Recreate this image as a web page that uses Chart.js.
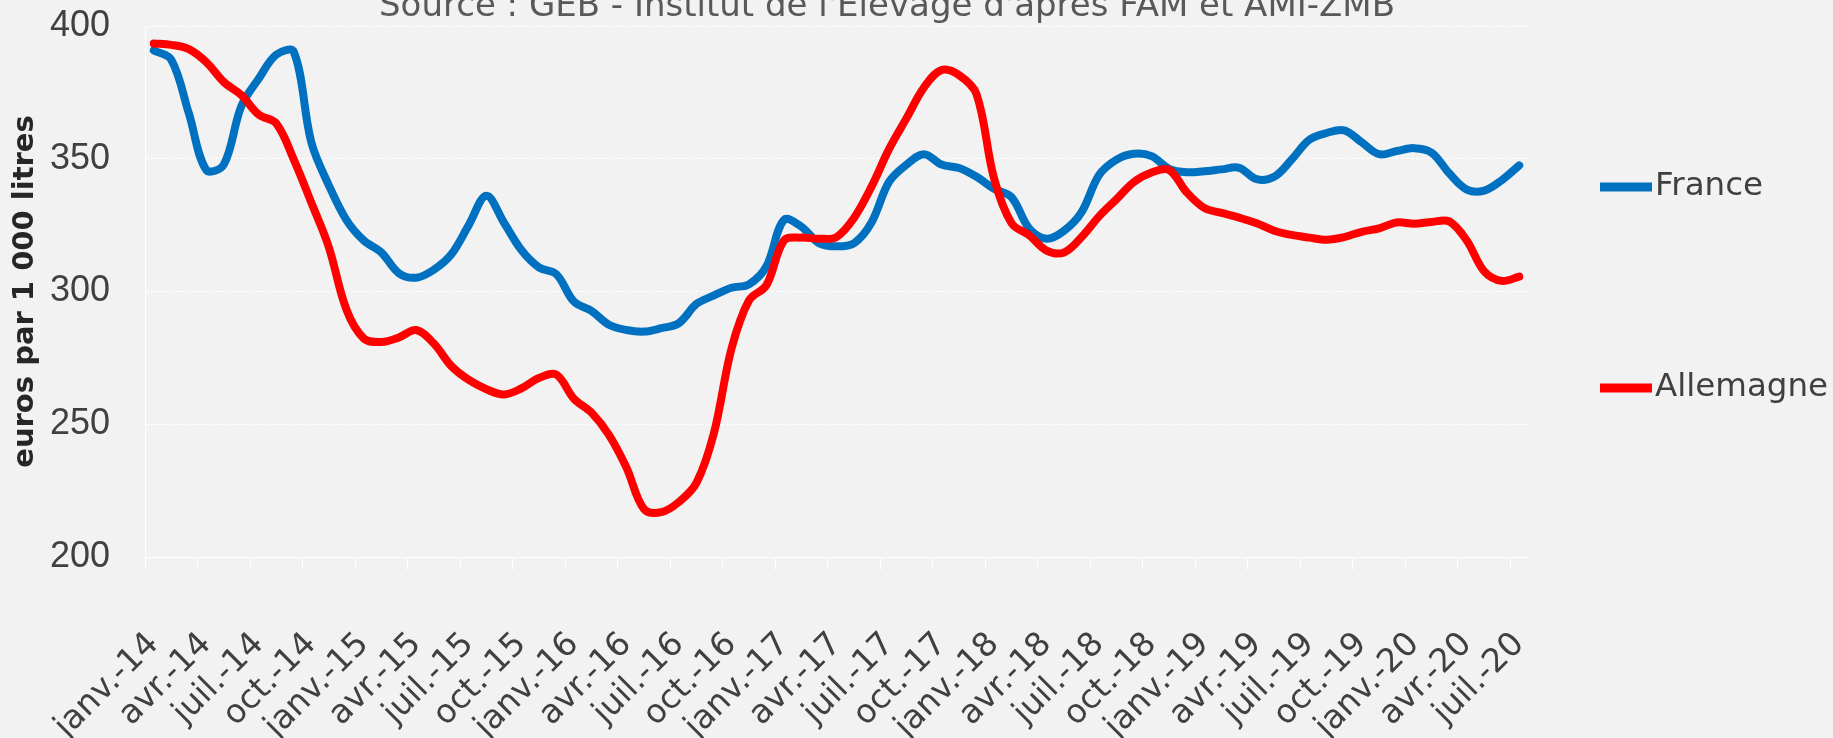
<!DOCTYPE html>
<html>
<head>
<meta charset="utf-8">
<script src="https://cdn.jsdelivr.net/npm/chart.js@4.4.1/dist/chart.umd.min.js"></script>
<style>
  html, body { margin: 0; padding: 0; background: #f2f2f2; overflow: hidden; }
  #wrap { position: relative; width: 1833px; height: 738px; }
</style>
</head>
<body>
<div id="wrap"><canvas id="c" width="1833" height="738"></canvas></div>
<script>
const categories = [
  'janv.-14','févr.-14','mars-14','avr.-14','mai-14','juin-14','juil.-14','août-14','sept.-14','oct.-14','nov.-14','déc.-14',
  'janv.-15','févr.-15','mars-15','avr.-15','mai-15','juin-15','juil.-15','août-15','sept.-15','oct.-15','nov.-15','déc.-15',
  'janv.-16','févr.-16','mars-16','avr.-16','mai-16','juin-16','juil.-16','août-16','sept.-16','oct.-16','nov.-16','déc.-16',
  'janv.-17','févr.-17','mars-17','avr.-17','mai-17','juin-17','juil.-17','août-17','sept.-17','oct.-17','nov.-17','déc.-17',
  'janv.-18','févr.-18','mars-18','avr.-18','mai-18','juin-18','juil.-18','août-18','sept.-18','oct.-18','nov.-18','déc.-18',
  'janv.-19','févr.-19','mars-19','avr.-19','mai-19','juin-19','juil.-19','août-19','sept.-19','oct.-19','nov.-19','déc.-19',
  'janv.-20','févr.-20','mars-20','avr.-20','mai-20','juin-20','juil.-20'
];

const france = [
  390.8, 387.3, 367.2, 345.8, 347.8, 369.8, 380.2, 389.2, 390.3, 356.2,
  340.0, 327.0, 319.2, 314.7, 306.9, 305.2, 308.2, 314.0, 325.1, 336.1,
  326.0, 315.6, 309.1, 306.5, 296.2, 292.7, 287.5, 285.5, 284.9, 286.2,
  288.1, 295.3, 298.5, 301.4, 302.7, 309.5, 327.0, 324.4, 318.2, 317.0,
  318.2, 326.0, 341.3, 347.8, 351.7, 347.8, 346.5, 343.2, 338.7, 335.5,
  323.8, 319.9, 322.9, 329.9, 343.9, 349.7, 351.9, 351.0, 346.2, 344.9,
  345.3, 346.0, 346.6, 342.3, 343.2, 349.7, 357.1, 359.7, 360.7, 356.2,
  351.7, 352.9, 354.0, 352.3, 344.5, 338.4, 338.0, 341.9, 347.5
];

const allemagne = [
  393.4, 392.9, 391.3, 386.4, 378.9, 374.0, 366.6, 363.3, 349.7, 333.5,
  316.7, 293.3, 282.3, 281.0, 282.7, 285.5, 280.4, 271.9, 266.7, 263.2,
  261.2, 263.5, 267.4, 268.7, 259.6, 254.4, 246.0, 233.7, 218.1, 216.9,
  220.7, 227.9, 246.7, 278.4, 296.6, 302.4, 319.2, 320.3, 319.9, 320.5,
  327.7, 339.5, 353.6, 365.3, 376.9, 383.4, 381.5, 374.3, 342.6, 325.7,
  321.2, 315.4, 314.7, 320.5, 328.3, 334.8, 341.3, 344.8, 345.8, 337.4,
  331.5, 329.6, 327.8, 325.7, 322.9, 321.3, 320.3, 319.5, 320.5, 322.5,
  323.8, 326.0, 325.5, 326.2, 326.4, 319.2, 307.6, 304.0, 305.6
];

const yTicks = [200, 250, 300, 350, 400];
const seriesNames = ['France', 'Allemagne'];
const titleText = "Source : GEB - Institut de l'Elevage d'après FAM et AMI-ZMB";
const yAxisTitle = 'euros par 1 000 litres';

const overlay = {
  id: 'overlay',
  afterDraw(chart, args, opts) {
    const ctx = chart.ctx;
    ctx.save();
    ctx.font = opts.titleFont;
    ctx.fillStyle = opts.titleColor;
    ctx.textAlign = 'center';
    ctx.textBaseline = 'alphabetic';
    ctx.fillText(titleText, opts.titleX, opts.titleY);
    chart.data.datasets.forEach((ds, i) => {
      const y = opts.legendY[i];
      ctx.strokeStyle = ds.borderColor;
      ctx.lineWidth = opts.legendLineWidth;
      ctx.lineCap = 'butt';
      ctx.beginPath();
      ctx.moveTo(opts.legendX, y);
      ctx.lineTo(opts.legendX + opts.legendLineLen, y);
      ctx.stroke();
      ctx.font = opts.legendFont;
      ctx.fillStyle = opts.legendColor;
      ctx.textAlign = 'left';
      ctx.textBaseline = 'middle';
      ctx.fillText(ds.label, opts.legendX + opts.legendLineLen + opts.legendGap, y);
    });
    ctx.restore();
  }
};

new Chart(document.getElementById('c'), {
  type: 'line',
  data: {
    labels: categories,
    datasets: [
      { label: seriesNames[0], data: france, borderColor: '#0070C0', backgroundColor: '#0070C0',
        borderWidth: 8, pointRadius: 0, tension: 0.35, fill: false, order: 1,
        borderCapStyle: 'round', borderJoinStyle: 'round' },
      { label: seriesNames[1], data: allemagne, borderColor: '#FF0000', backgroundColor: '#FF0000',
        borderWidth: 8, pointRadius: 0, tension: 0.35, fill: false, order: 0,
        borderCapStyle: 'round', borderJoinStyle: 'round' }
    ]
  },
  options: {
    responsive: false,
    animation: false,
    devicePixelRatio: 1,
    layout: { padding: { top: 26, right: 305, bottom: 0, left: 0 } },
    plugins: {
      legend: { display: false },
      title: { display: false },
      tooltip: { enabled: false },
      overlay: {
        titleFont: '34px "DejaVu Sans"',
        titleColor: '#595959',
        titleX: 887,
        titleY: 16,
        legendX: 1600,
        legendY: [187, 388],
        legendLineLen: 52,
        legendLineWidth: 9,
        legendGap: 3,
        legendFont: '32.5px "DejaVu Sans"',
        legendColor: '#404040'
      }
    },
    scales: {
      x: {
        type: 'category',
        offset: true,
        grid: {
          offset: true,
          drawOnChartArea: false,
          drawTicks: true,
          tickLength: 13,
          lineWidth: 1,
          color: (c) => (c.index % 3 === 0 ? '#ffffff' : 'rgba(0,0,0,0)')
        },
        border: { display: true, color: '#ffffff', width: 1 },
        ticks: {
          autoSkip: false,
          minRotation: 45,
          maxRotation: 45,
          padding: 55,
          color: '#404040',
          font: { family: 'DejaVu Sans', size: 33 },
          callback: function (v, i) { return i % 3 === 0 ? this.getLabelForValue(v) : ''; }
        },
        afterFit: (s) => { s.height = 181; }
      },
      y: {
        min: 200,
        max: 400,
        afterBuildTicks: (s) => { s.ticks = yTicks.map(v => ({ value: v })); },
        grid: { color: '#ffffff', lineWidth: 1, drawTicks: true, tickLength: 35, tickColor: 'rgba(0,0,0,0)' },
        border: { display: true, color: '#ffffff', width: 1, dash: [3, 2] },
        ticks: {
          padding: 0,
          color: '#404040',
          font: { family: 'Liberation Sans', size: 36 }
        },
        title: {
          display: true,
          text: yAxisTitle,
          color: '#262626',
          font: { family: 'DejaVu Sans', size: 29, weight: 'bold' },
          padding: { top: 8, bottom: 0 }
        },
        afterFit: (s) => { s.width = 145; }
      }
    }
  },
  plugins: [overlay]
});
</script>
</body>
</html>
